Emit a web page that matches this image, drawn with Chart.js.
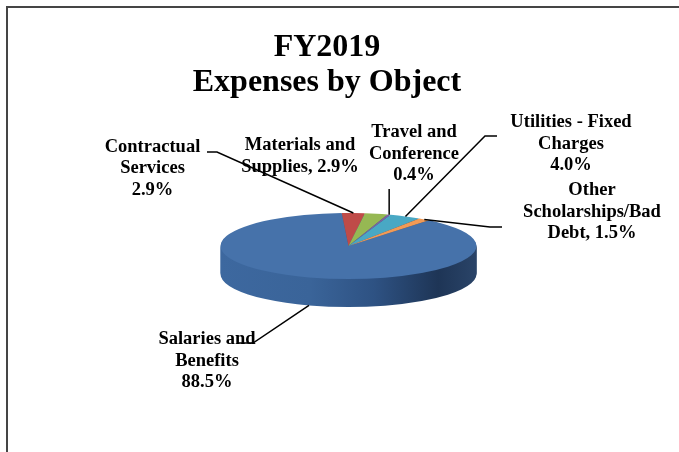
<!DOCTYPE html>
<html>
<head>
<meta charset="utf-8">
<script src="https://cdn.jsdelivr.net/npm/chart.js@4/dist/chart.umd.min.js"></script>
<style>
html,body{margin:0;padding:0;background:#fff;}
#wrap{position:relative;width:679px;height:452px;overflow:hidden;}
#frame{position:absolute;left:6px;top:6px;width:700px;height:470px;border-top:2px solid #454545;border-left:2px solid #454545;box-sizing:border-box;}
canvas{position:absolute;left:0;top:0;}
</style>
</head>
<body>
<div id="wrap"><div id="frame"></div><canvas id="c" width="679" height="452"></canvas></div>
<script>
// ---- data ----
const categories = ['Salaries and Benefits','Contractual Services','Materials and Supplies','Travel and Conference','Utilities - Fixed Charges','Other Scholarships/Bad Debt'];
const values = [88.5, 2.9, 2.9, 0.4, 4.0, 1.5];
const sliceColors = ['#4672AA','#BF4B48','#96B853','#7E62A1','#49A8C4','#F29A55'];
const titleLines = ['FY2019','Expenses by Object'];
const labelLines = [
  ['Salaries and','Benefits','{v}'],
  ['Contractual','Services','{v}'],
  ['Materials and','Supplies, {v}'],
  ['Travel and','Conference','{v}'],
  ['Utilities - Fixed','Charges','{v}'],
  ['Other','Scholarships/Bad','Debt, {v}']
];

// ---- layout / style (not data) ----
const view = {cx:348.5, cy:246, rx:128, ry:33, depth:28};
const labelLayout = [
  {x:207,   y:344,   side:true,  path:[[253,343],[238,343]]},
  {x:152.5, y:151.5, side:false, path:[[217,152],[207,152]]},
  {x:300,   y:150,   side:false, path:null},
  {x:414,   y:137,   side:false, path:[[null,189]]},
  {x:571,   y:127,   side:false, path:[[485,136],[497,136]]},
  {x:592,   y:195,   side:false, path:[[490,227],[502,227]]}
];
const labelFont = 'bold 18.5px "Liberation Serif", "Times New Roman", serif';
const lineGap = 21.5;

function pieTransform(ctx, meta, dy) {
  const a = meta.data[0];
  const r = a.outerRadius;
  ctx.translate(view.cx, view.cy + dy);
  ctx.scale(view.rx / r, view.ry / r);
  ctx.translate(-a.x, -a.y);
}

const pie3d = {
  id: 'pie3d',
  beforeDatasetsDraw(chart) {
    const ctx = chart.ctx;
    const meta = chart.getDatasetMeta(0);
    const a = meta.data[0];
    const r = a.outerRadius;
    const grad = ctx.createLinearGradient(a.x - r, 0, a.x + r, 0);
    grad.addColorStop(0, '#3d689f');
    grad.addColorStop(0.35, '#3a6499');
    grad.addColorStop(0.6, '#2e5283');
    grad.addColorStop(0.85, '#1e3556');
    grad.addColorStop(1, '#2a4468');
    ctx.save();
    for (let d = view.depth; d >= 1; d--) {
      ctx.save();
      pieTransform(ctx, meta, d);
      meta.data.forEach((arc) => {
        const saved = arc.options;
        arc.options = Object.assign({}, saved, {backgroundColor: grad, borderWidth: 0});
        arc.draw(ctx);
        arc.options = saved;
      });
      ctx.restore();
    }
    pieTransform(ctx, meta, 0);
  },
  afterDatasetsDraw(chart) {
    chart.ctx.restore();
  },
  afterDraw(chart) {
    const ctx = chart.ctx;
    const meta = chart.getDatasetMeta(0);
    ctx.save();
    // labels
    ctx.font = labelFont;
    ctx.fillStyle = '#000';
    ctx.textAlign = 'center';
    ctx.textBaseline = 'alphabetic';
    labelLines.forEach((lines, i) => {
      const L = labelLayout[i];
      const v = values[i].toFixed(1) + '%';
      lines.forEach((t, k) => ctx.fillText(t.replace('{v}', v), L.x, L.y + k * lineGap));
    });
    // leader lines
    ctx.strokeStyle = '#000';
    ctx.lineWidth = 1.5;
    meta.data.forEach((arc, i) => {
      const L = labelLayout[i];
      if (!L.path) return;
      const mid = (arc.startAngle + arc.endAngle) / 2;
      const sx = view.cx + view.rx * Math.cos(mid);
      const sy = view.cy + view.ry * Math.sin(mid) + (L.side ? view.depth : 0);
      ctx.beginPath();
      ctx.moveTo(sx, sy);
      L.path.forEach(p => ctx.lineTo(p[0] === null ? sx : p[0], p[1]));
      ctx.stroke();
    });
    ctx.restore();
  }
};

new Chart(document.getElementById('c'), {
  type: 'pie',
  data: {
    labels: categories,
    datasets: [{data: values, backgroundColor: sliceColors, borderWidth: 0, clip: false}]
  },
  options: {
    responsive: false,
    animation: false,
    events: [],
    rotation: 39,
    layout: {padding: {left: 0, right: 25, top: 0, bottom: 0}},
    plugins: {
      legend: {display: false},
      tooltip: {enabled: false},
      title: {
        display: true,
        text: titleLines,
        color: '#000',
        font: {family: '"Liberation Serif", "Times New Roman", serif', size: 32, weight: 'bold', lineHeight: 1.094},
        padding: {top: 30, bottom: 10}
      }
    }
  },
  plugins: [pie3d]
});
</script>
</body>
</html>
